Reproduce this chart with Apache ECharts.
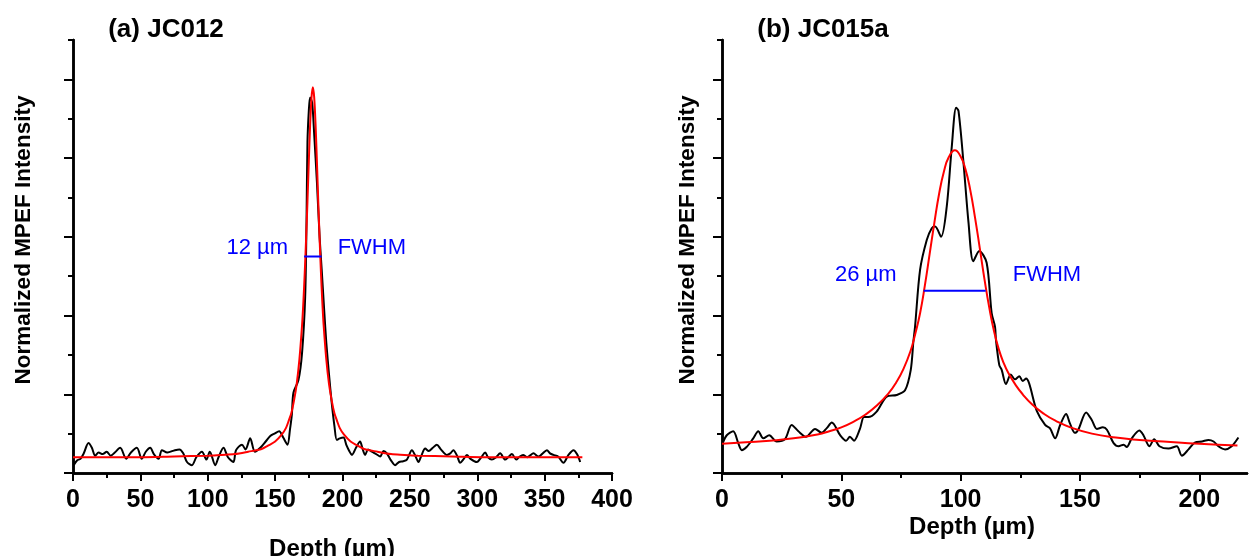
<!DOCTYPE html>
<html>
<head>
<meta charset="utf-8">
<script src="https://cdn.jsdelivr.net/npm/echarts@6/dist/echarts.min.js"></script>
<style>html,body{margin:0;padding:0;background:#fff;}#c{width:1254px;height:556px;}</style>
</head>
<body>
<div id="c"></div>
<script>
// ---------- data ----------
const titleA = '(a) JC012';
const titleB = '(b) JC015a';
const yName = 'Normalized MPEF Intensity';
const xName = 'Depth (\u00b5m)';

const leftXMajor = [0, 50, 100, 150, 200, 250, 300, 350, 400];
const leftXMinor = [25, 75, 125, 175, 225, 275, 325, 375];
const rightXMajor = [0, 50, 100, 150, 200];
const rightXMinor = [25, 75, 125, 175];
const yMajor = [0, 1, 2, 3, 4, 5];
const yMinor = [0.5, 1.5, 2.5, 3.5, 4.5, 5.5];

const leftData = [[0.5,0.10],[3,0.16],[5.5,0.18],[8,0.25],[11.5,0.38],[14,0.32],[16.5,0.22],[19,0.26],[22,0.24],[25,0.27],[28,0.22],[31,0.26],[35,0.32],[39.5,0.18],[43,0.26],[47.4,0.32],[51,0.18],[54,0.27],[57.3,0.32],[60,0.24],[63.5,0.18],[66,0.29],[70,0.26],[75.6,0.29],[79,0.30],[81.8,0.25],[84.6,0.14],[88.3,0.10],[91.5,0.20],[95.7,0.27],[99,0.17],[101.5,0.27],[105.6,0.10],[108,0.20],[111.7,0.32],[115,0.20],[119,0.14],[121,0.29],[125.4,0.36],[128,0.30],[131.5,0.44],[135,0.27],[139,0.32],[143,0.40],[146.4,0.47],[149.5,0.50],[153,0.53],[156,0.45],[159.2,0.36],[161,0.55],[162.4,0.74],[163.6,1.02],[167.3,1.18],[170,1.53],[172.3,2.24],[173.3,3.2],[174,4.2],[175,4.6],[176,4.77],[177.5,4.7],[179,4.3],[181,3.7],[183,3.0],[184.5,2.6],[186.4,2.07],[188,1.65],[190,1.25],[192,0.89],[194,0.6],[195.8,0.42],[198,0.44],[200.7,0.45],[203,0.35],[205,0.28],[207,0.23],[210,0.32],[213,0.40],[215,0.30],[216.8,0.23],[219,0.30],[221.8,0.27],[225,0.24],[228,0.21],[230.5,0.28],[232.9,0.25],[236,0.16],[239,0.10],[242,0.14],[245,0.15],[247.8,0.17],[251.5,0.29],[254,0.22],[256.4,0.14],[258.5,0.22],[261.4,0.31],[264,0.28],[267,0.32],[270,0.36],[273,0.30],[277.4,0.23],[280,0.25],[282.3,0.29],[285,0.22],[287.3,0.13],[290,0.18],[292.3,0.23],[295,0.18],[299.7,0.14],[303,0.20],[305.9,0.26],[308,0.20],[310.8,0.17],[314,0.20],[317,0.25],[320.7,0.17],[323,0.20],[325.7,0.24],[329,0.17],[331,0.20],[334,0.23],[337,0.20],[339,0.22],[341.7,0.25],[345.4,0.21],[348,0.24],[351.7,0.29],[354,0.25],[356.5,0.23],[360,0.21],[364,0.13],[367.7,0.23],[371.4,0.29],[374,0.24],[376.4,0.14]];

const leftFit = [[0,0.20],[25,0.20],[50,0.20],[75,0.21],[100,0.22],[110,0.23],[120,0.24],[130,0.27],[140,0.305],[145,0.35],[150,0.40],[155,0.49],[158,0.57],[160,0.66],[162,0.76],[164,0.92],[166,1.13],[168,1.44],[170,1.88],[171,2.18],[172,2.55],[173,2.98],[174,3.45],[175,3.96],[176,4.43],[177,4.77],[178,4.90],[179,4.77],[180,4.43],[181,3.96],[182,3.45],[183,2.98],[184,2.55],[185,2.18],[186,1.88],[188,1.44],[190,1.13],[192,0.92],[194,0.76],[196,0.66],[198,0.57],[201,0.49],[206,0.40],[211,0.35],[216,0.305],[226,0.27],[236,0.24],[246,0.23],[256,0.22],[281,0.21],[306,0.20],[340,0.20],[378,0.20]];

const leftFwhm = [[171.5,2.75],[184.5,2.75]];
const leftFwhmText = ['12 \u00b5m', 'FWHM'];

const rightData = [[0.3,0.38],[2,0.48],[4.7,0.53],[6.8,0.38],[8.3,0.29],[10.3,0.33],[13.1,0.44],[15.2,0.53],[17.3,0.44],[19.8,0.48],[22.9,0.40],[26.4,0.43],[29.2,0.61],[32,0.53],[35.2,0.46],[39,0.56],[41.8,0.51],[43.9,0.57],[46,0.64],[49.5,0.48],[52,0.41],[53.6,0.46],[55.3,0.41],[57.8,0.56],[59.5,0.71],[61.3,0.71],[64.8,0.78],[69,0.97],[73.2,0.99],[76.7,1.05],[79.1,1.31],[80.2,1.67],[80.9,1.86],[83,2.58],[85.8,2.96],[87.9,3.11],[89.3,3.13],[91.8,3.0],[94.2,3.39],[96.3,4.15],[98.1,4.64],[99.1,4.60],[101.2,3.94],[103.3,3.18],[105.3,2.69],[107.8,2.82],[110.9,2.67],[113,2.03],[114.4,1.86],[114.8,1.69],[116.2,1.37],[117.2,1.31],[119,1.13],[121,1.25],[122.8,1.19],[124.6,1.23],[126,1.17],[127.4,1.20],[131.9,0.79],[135.4,0.61],[137.4,0.57],[139.6,0.44],[141.7,0.61],[144.2,0.75],[145.8,0.63],[147.9,0.51],[149.3,0.55],[152.6,0.77],[155,0.67],[157.1,0.56],[159.6,0.58],[161.3,0.55],[164.1,0.38],[166.2,0.34],[168.3,0.36],[169.6,0.33],[171.7,0.44],[174.9,0.54],[176.6,0.48],[179.1,0.34],[181.1,0.43],[183.3,0.34],[187.1,0.31],[190.6,0.34],[192.7,0.22],[195.5,0.30],[198.3,0.39],[201.1,0.40],[203.9,0.42],[206,0.40],[208,0.34],[210.8,0.30],[213.6,0.34],[216.4,0.45]];

const rightFit = [[0,0.37],[10,0.39],[20,0.41],[30,0.44],[40,0.49],[45,0.53],[50,0.58],[55,0.65],[60,0.74],[65,0.86],[70,1.02],[73,1.15],[76,1.32],[79,1.55],[81,1.77],[83,2.03],[85,2.38],[87,2.78],[89,3.18],[91,3.55],[93,3.83],[95,4.01],[97.6,4.10],[100,4.02],[102,3.86],[104,3.60],[106,3.25],[108,2.86],[110,2.46],[112,2.10],[114,1.80],[116,1.57],[118,1.40],[120,1.27],[123,1.12],[126,1.00],[130,0.87],[135,0.75],[140,0.66],[146,0.58],[155,0.50],[165,0.45],[175,0.42],[185,0.40],[200,0.37],[216,0.35]];

const rightFwhm = [[84.5,2.315],[110.5,2.315]];
const rightFwhmText = ['26 \u00b5m', 'FWHM'];

// ---------- chart ----------
const FONT = '"Liberation Sans", Arial, sans-serif';
const chart = echarts.init(document.getElementById('c'), null, {renderer: 'canvas'});

function xAx(gi, max, ticks, len, labels) {
  return {
    type: 'value', gridIndex: gi, min: 0, max: max, position: 'bottom', offset: 0,
    splitLine: {show: false},
    axisLine: {show: true, onZero: false, lineStyle: {color: '#000', width: 2.5}},
    axisTick: {show: true, inside: false, length: len, customValues: ticks, lineStyle: {color: '#000', width: 2}},
    axisLabel: {show: labels, customValues: ticks, margin: 15, fontSize: 25, fontWeight: 'bold', color: '#000', fontFamily: FONT}
  };
}
function yAx(gi, ticks, len) {
  return {
    type: 'value', gridIndex: gi, min: 0, max: 5.5, position: 'left', offset: 0,
    splitLine: {show: false},
    axisLine: {show: true, onZero: false, lineStyle: {color: '#000', width: 2.5}},
    axisTick: {show: true, inside: false, length: len, customValues: ticks, lineStyle: {color: '#000', width: 2}},
    axisLabel: {show: false}
  };
}
function fwhmSeries(xi, yi, pts, texts, gap, dy) {
  return {
    type: 'line', xAxisIndex: xi, yAxisIndex: yi, silent: true,
    symbol: 'circle', symbolSize: 0.1, showSymbol: true,
    lineStyle: {color: '#0000ff', width: 2}, itemStyle: {color: '#0000ff'},
    data: [
      {value: pts[0], label: {show: true, position: 'left', distance: gap, offset: [0, dy], formatter: texts[0]}},
      {value: pts[1], label: {show: true, position: 'right', distance: gap, offset: [0, dy], formatter: texts[1]}}
    ],
    label: {color: '#0000ff', fontSize: 22, fontFamily: FONT},
    z: 5
  };
}

const option = {
  backgroundColor: '#ffffff',
  animation: false,
  grid: [
    {left: 73, right: 642, top: 40, bottom: 83, containLabel: false},
    {left: 722, right: 7, top: 40, bottom: 83, containLabel: false}
  ],
  xAxis: [
    xAx(0, 400, leftXMajor, 8, true),
    xAx(0, 400, leftXMinor, 5, false),
    xAx(1, 220, rightXMajor, 8, true),
    xAx(1, 220, rightXMinor, 5, false)
  ],
  yAxis: [
    yAx(0, yMajor, 9),
    yAx(0, yMinor, 5),
    yAx(1, yMajor, 9),
    yAx(1, yMinor, 5)
  ],
  series: [
    {type: 'line', xAxisIndex: 0, yAxisIndex: 0, data: leftData, showSymbol: false, smooth: 0.3,
     lineStyle: {color: '#000', width: 2}, z: 3},
    {type: 'line', xAxisIndex: 0, yAxisIndex: 0, data: leftFit, showSymbol: false, smooth: 0.3,
     lineStyle: {color: '#ff0000', width: 2}, z: 4},
    fwhmSeries(0, 0, leftFwhm, leftFwhmText, 16, -9),
    {type: 'line', xAxisIndex: 2, yAxisIndex: 2, data: rightData, showSymbol: false, smooth: 0.3,
     lineStyle: {color: '#000', width: 2}, z: 3},
    {type: 'line', xAxisIndex: 2, yAxisIndex: 2, data: rightFit, showSymbol: false, smooth: 0.5,
     lineStyle: {color: '#ff0000', width: 2}, z: 4},
    fwhmSeries(2, 2, rightFwhm, rightFwhmText, 27, -16)
  ],
  graphic: [
    {type: 'text', x: 166, y: 30, style: {text: titleA, fill: '#000', font: 'bold 26px ' + FONT, align: 'center', verticalAlign: 'middle'}},
    {type: 'text', x: 823, y: 30, style: {text: titleB, fill: '#000', font: 'bold 26px ' + FONT, align: 'center', verticalAlign: 'middle'}},
    {type: 'text', x: 24, y: 240, rotation: Math.PI / 2, style: {text: yName, fill: '#000', font: 'bold 22.5px ' + FONT, align: 'center', verticalAlign: 'middle'}},
    {type: 'text', x: 688, y: 240, rotation: Math.PI / 2, style: {text: yName, fill: '#000', font: 'bold 22.5px ' + FONT, align: 'center', verticalAlign: 'middle'}},
    {type: 'text', x: 332, y: 549, style: {text: xName, fill: '#000', font: 'bold 24px ' + FONT, align: 'center', verticalAlign: 'middle'}},
    {type: 'text', x: 972, y: 527, style: {text: xName, fill: '#000', font: 'bold 24px ' + FONT, align: 'center', verticalAlign: 'middle'}}
  ]
};
chart.setOption(option);
</script>
</body>
</html>
